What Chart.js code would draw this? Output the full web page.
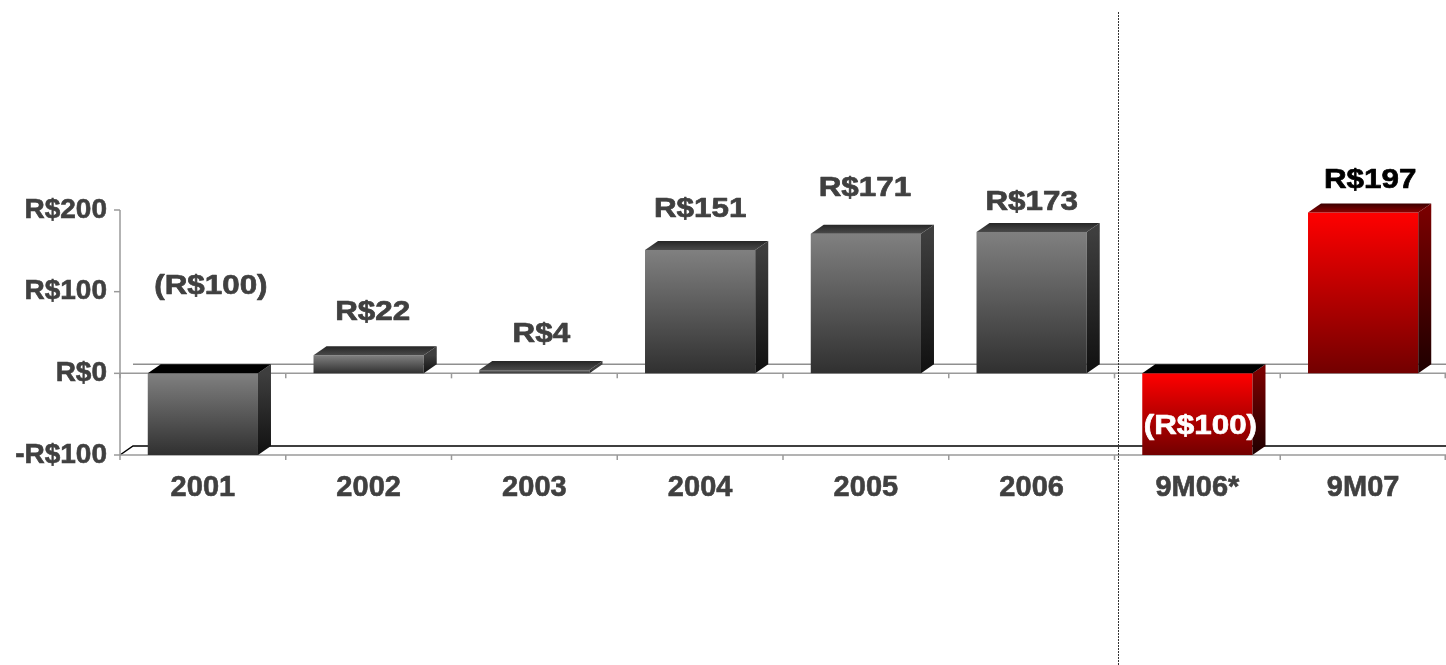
<!DOCTYPE html>
<html><head><meta charset="utf-8">
<script src="https://cdn.jsdelivr.net/npm/chart.js@4/dist/chart.umd.min.js"></script>
<style>html,body{margin:0;padding:0;background:#fff;overflow:hidden}#wrap{width:1446px;height:665px;position:relative}</style>
</head><body><div id="wrap"><canvas id="c"></canvas></div>
<script>
// ---- data ----
const categories = ['2001', '2002', '2003', '2004', '2005', '2006', '9M06*', '9M07'];
const values = [-100, 22, 4, 151, 171, 173, -100, 197];
const valueLabels = ['(R$100)', 'R$22', 'R$4', 'R$151', 'R$171', 'R$173', '(R$100)', 'R$197'];
const yTicks = [-100, 0, 100, 200];
const barKinds = ['gray', 'gray', 'gray', 'gray', 'gray', 'gray', 'red', 'red'];

// ---- styles ----
const FONT = '"Liberation Sans", Arial, Helvetica, sans-serif';
const DEPTH = { dx: 13, dy: -9 };
const labelRise = [88, 44, 37, 42, 46, 31, -52, 33];   // px above bar top
const labelShift = [8, 4, 7, 0, -1, 0, 3, 7];          // px horizontal
const labelColors = ['#404040', '#404040', '#404040', '#404040', '#404040', '#404040', '#ffffff', '#000000'];
const palette = {
  gray: { front: ['#808080', '#303030'], side: ['#3e3e3e', '#101010'], top: ['#262626', '#4a4a4a'] },
  red:  { front: ['#ff0000', '#720000'], side: ['#780000', '#1e0000'], top: ['#3a0000', '#8a0000'] }
};

function fmtTick(v) { return (v < 0 ? '-' : '') + 'R$' + Math.abs(v); }

function frontColor(ctx) {
  const chart = ctx.chart;
  const ys = chart.scales && chart.scales.y;
  if (ctx.type !== 'data' || !ys) return '#666';
  const v = values[ctx.dataIndex];
  const t = ys.getPixelForValue(Math.max(v, 0));
  const b = ys.getPixelForValue(Math.min(v, 0));
  if (!isFinite(t) || !isFinite(b) || t === b) return palette[barKinds[ctx.dataIndex]].front[0];
  const g = chart.ctx.createLinearGradient(0, t, 0, b);
  const p = palette[barKinds[ctx.dataIndex]].front;
  g.addColorStop(0, p[0]); g.addColorStop(1, p[1]);
  return g;
}

const frame3d = {
  id: 'frame3d',
  beforeDatasetsDraw(chart) {
    const c = chart.ctx, xs = chart.scales.x, ys = chart.scales.y, a = chart.chartArea;
    const y0 = ys.getPixelForValue(0), yMin = ys.getPixelForValue(yTicks[0]);
    c.save();
    c.lineWidth = 1.5;
    c.strokeStyle = '#8f8f8f';
    c.beginPath(); c.moveTo(a.left + DEPTH.dx, y0 + DEPTH.dy); c.lineTo(a.right, y0 + DEPTH.dy); c.stroke();
    c.strokeStyle = '#000';
    c.beginPath(); c.moveTo(a.left, yMin); c.lineTo(a.left + DEPTH.dx, yMin + DEPTH.dy); c.lineTo(a.right, yMin + DEPTH.dy); c.stroke();
    c.strokeStyle = '#9a9a9a';
    c.beginPath(); c.moveTo(a.left, y0); c.lineTo(a.right, y0); c.stroke();
    c.beginPath(); c.moveTo(a.left, yMin); c.lineTo(a.right, yMin); c.stroke();
    c.beginPath(); c.moveTo(a.left, ys.getPixelForValue(yTicks[yTicks.length - 1])); c.lineTo(a.left, yMin); c.stroke();
    yTicks.forEach(v => {
      const y = ys.getPixelForValue(v);
      c.beginPath(); c.moveTo(a.left - 6, y); c.lineTo(a.left, y); c.stroke();
    });
    const n = categories.length;
    const step = xs.getPixelForValue(1) - xs.getPixelForValue(0);
    for (let i = 0; i <= n; i++) {
      const x = i < n ? (xs.getPixelForValue(i) - step / 2) : a.right - 0.75;
      [y0, yMin].forEach(y => { c.beginPath(); c.moveTo(x, y); c.lineTo(x, y + 5); c.stroke(); });
    }
    c.restore();
  },
  afterDatasetsDraw(chart) {
    const c = chart.ctx, ys = chart.scales.y;
    const meta = chart.getDatasetMeta(0);
    c.save();
    meta.data.forEach((bar, i) => {
      const v = values[i];
      const p = palette[barKinds[i]];
      const top = Math.min(bar.y, bar.base), bot = Math.max(bar.y, bar.base);
      const l = bar.x - bar.width / 2, r = bar.x + bar.width / 2;
      const dx = DEPTH.dx, dy = DEPTH.dy;
      let g = c.createLinearGradient(0, top, 0, bot);
      g.addColorStop(0, p.side[0]); g.addColorStop(1, p.side[1]);
      c.fillStyle = g;
      c.beginPath(); c.moveTo(r, top); c.lineTo(r + dx, top + dy); c.lineTo(r + dx, bot + dy); c.lineTo(r, bot); c.closePath(); c.fill();
      if (v < 0) {
        c.fillStyle = '#000';
      } else {
        g = c.createLinearGradient(0, top + dy, 0, top);
        g.addColorStop(0, p.top[0]); g.addColorStop(1, p.top[1]);
        c.fillStyle = g;
      }
      c.beginPath(); c.moveTo(l, top); c.lineTo(l + dx, top + dy); c.lineTo(r + dx, top + dy); c.lineTo(r, top); c.closePath(); c.fill();
    });
    c.font = 'bold 28px ' + FONT;
    c.textAlign = 'center';
    c.textBaseline = 'middle';
    c.lineJoin = 'round';
    meta.data.forEach((bar, i) => {
      const top = ys.getPixelForValue(Math.max(values[i], 0));
      const x = bar.x + labelShift[i], y = top - labelRise[i];
      c.save();
      c.translate(x, y);
      c.scale(1.12, 1);
      c.fillStyle = labelColors[i];
      c.strokeStyle = labelColors[i];
      c.lineWidth = 0.7;
      c.fillText(valueLabels[i], 0, 1);
      c.strokeText(valueLabels[i], 0, 1);
      c.restore();
    });
    c.restore();
  },
  afterDraw(chart) {
    const c = chart.ctx, xs = chart.scales.x;
    const step = xs.getPixelForValue(1) - xs.getPixelForValue(0);
    const x = Math.round(xs.getPixelForValue(6) - step / 2 + 3) + 0.5;
    c.save();
    c.strokeStyle = '#333';
    c.lineWidth = 1;
    c.setLineDash([2, 1]);
    c.beginPath(); c.moveTo(x, 12); c.lineTo(x, 665); c.stroke();
    c.restore();
  }
};

new Chart(document.getElementById('c'), {
  type: 'bar',
  data: {
    labels: categories,
    datasets: [{
      data: values,
      backgroundColor: frontColor,
      borderWidth: 0,
      categoryPercentage: 1,
      barPercentage: 0.665
    }]
  },
  options: {
    responsive: true,
    maintainAspectRatio: false,
    animation: false,
    layout: { padding: { top: 210, left: 0, right: 0, bottom: 0 } },
    plugins: { legend: { display: false }, tooltip: { enabled: false } },
    scales: {
      x: {
        grid: { display: false, drawTicks: false },
        border: { display: false },
        ticks: { color: '#404040', textStrokeColor: '#404040', textStrokeWidth: 0.6, font: { family: FONT, size: 29, weight: 'bold' }, padding: 16, maxRotation: 0 },
        afterFit(s) { s.height = 210; }
      },
      y: {
        min: -100, max: 200,
        grid: { display: false, drawTicks: false },
        border: { display: false },
        afterBuildTicks(s) { s.ticks = yTicks.map(v => ({ value: v })); },
        ticks: { color: '#404040', textStrokeColor: '#404040', textStrokeWidth: 0.6, font: { family: FONT, size: 28, weight: 'bold' }, padding: 13, callback: v => fmtTick(v) },
        afterFit(s) { s.width = 120; }
      }
    }
  },
  plugins: [frame3d]
});
</script>
</body></html>
